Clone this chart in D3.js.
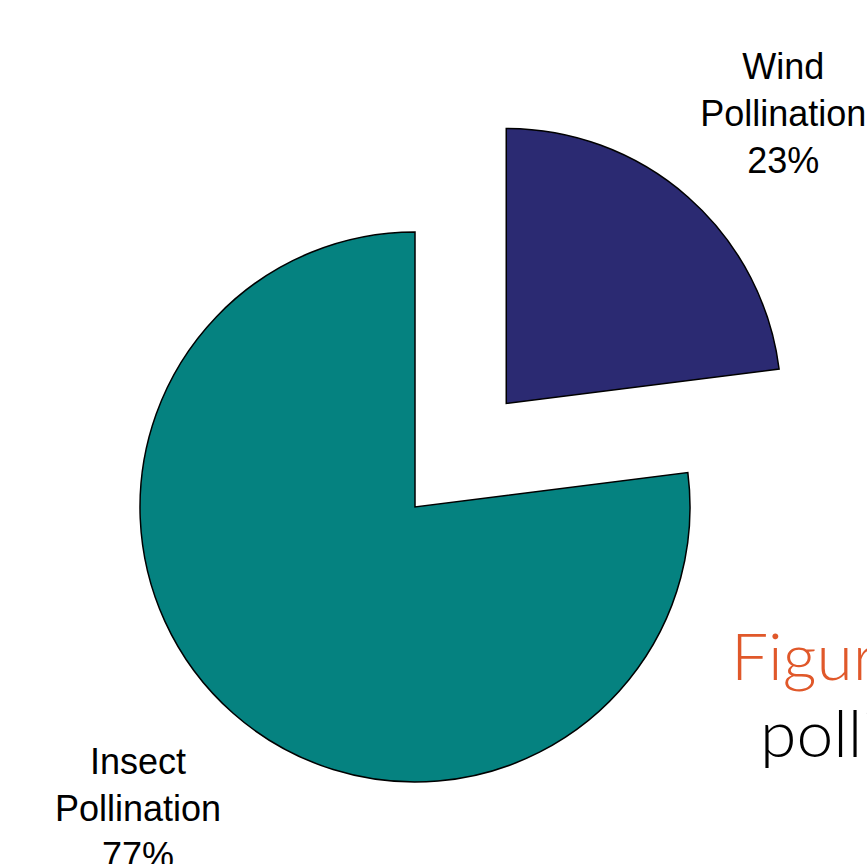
<!DOCTYPE html>
<html><head><meta charset="utf-8">
<script src="https://cdn.jsdelivr.net/npm/d3@7"></script>
<style>html,body{margin:0;padding:0;background:#fff;overflow:hidden}</style>
</head><body>
<script>
const categories = ["Wind Pollination", "Insect Pollination"];
const labelLines = [["Wind", "Pollination", "23%"], ["Insect", "Pollination", "77%"]];
const values = [23, 77];
const colors = ["#2B2A72", "#058280"];
const exploded = [true, false];
const titleLines = ["Figure 1: Wind vs. insect", "pollination"];

const W = 867, H = 864;
const cx = 415, cy = 507, R = 275, explodeDist = 138;
const labelNudge = [[0, 4], [0, 7]];

const svg = d3.select("body").append("svg").attr("width", W).attr("height", H);

const pie = d3.pie().sort(null).value(d => d).startAngle(0).endAngle(2 * Math.PI);
const arcs = pie(values);
const arc = d3.arc().innerRadius(0).outerRadius(R);

const g = svg.append("g").attr("transform", `translate(${cx},${cy})`);

arcs.forEach((a, i) => {
  const mid = (a.startAngle + a.endAngle) / 2;
  const off = exploded[i] ? explodeDist : 0;
  const ox = Math.sin(mid) * off, oy = -Math.cos(mid) * off;
  g.append("path")
    .attr("d", arc(a))
    .attr("transform", `translate(${ox},${oy})`)
    .attr("fill", colors[i])
    .attr("stroke", "#000")
    .attr("stroke-width", 1.5)
    .attr("stroke-linejoin", "miter");

  const la = mid + 0.033;
  const lr = 404;
  const lx = ox + Math.sin(la) * lr + labelNudge[i][0];
  const ly = oy - Math.cos(la) * lr + labelNudge[i][1];
  const t = g.append("text")
    .attr("text-anchor", "middle")
    .attr("font-family", "Liberation Sans, Arial, sans-serif")
    .attr("font-size", 36)
    .attr("fill", "#000");
  labelLines[i].forEach((line, j) => {
    t.append("tspan").attr("x", lx).attr("y", ly + (j - 1) * 47 + 13).text(line);
  });
});

svg.append("text")
  .attr("x", 731).attr("y", 680)
  .attr("font-family", "Lato, 'Open Sans', sans-serif")
  .attr("font-weight", 300)
  .attr("font-size", 66)
  .attr("fill", "#E0582A")
  .text(titleLines[0]);
svg.append("text")
  .attr("x", 760).attr("y", 757)
  .attr("font-family", "Lato, 'Open Sans', sans-serif")
  .attr("font-weight", 300)
  .attr("font-size", 66)
  .attr("fill", "#000")
  .text(titleLines[1]);
</script>
</body></html>
